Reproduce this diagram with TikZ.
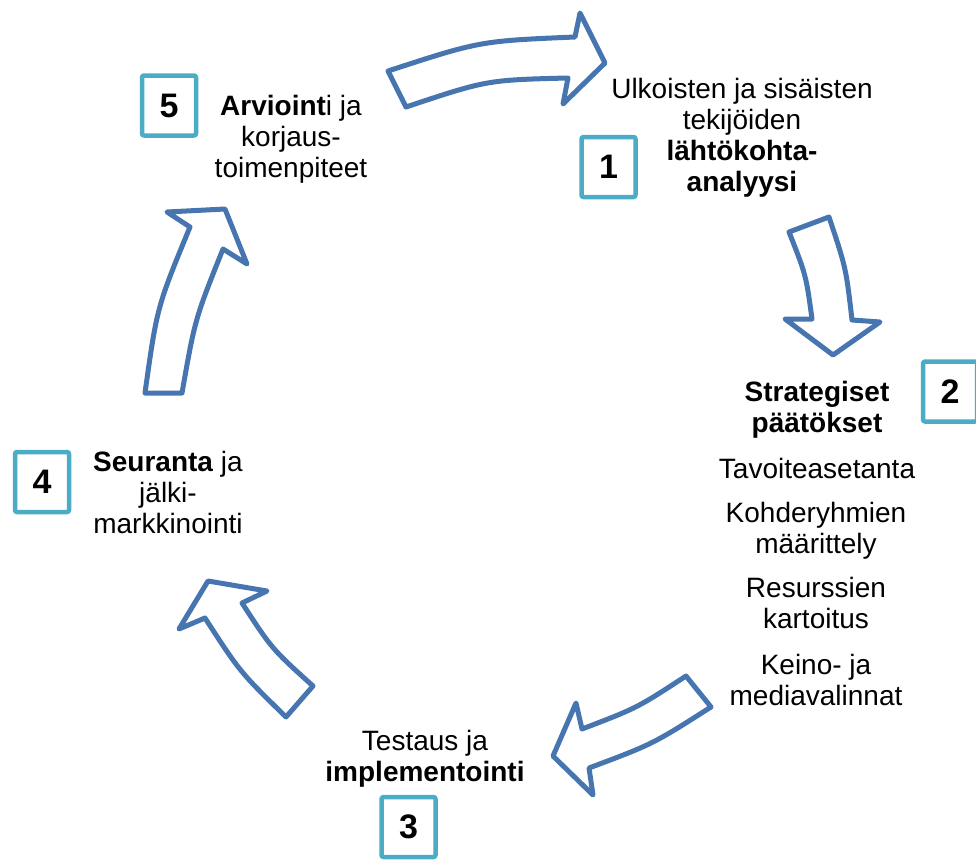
\documentclass[tikz,border=0pt]{standalone}
\usepackage{fontspec}
\setmainfont{Liberation Sans}
\usepackage{tikz}
\definecolor{cycleblue}{RGB}{71,117,176}
\definecolor{boxteal}{RGB}{75,172,198}
\newcommand{\tikzNumberBox}[3]{
  \node[draw=boxteal,line width=4.5pt,rounded corners=2pt,fill=white,rectangle,inner sep=0pt,minimum width=54pt,minimum height=60pt,font=\fontsize{34}{34}\selectfont\bfseries] (#1) at (#2) {#3};
}

\begin{document}
\begin{tikzpicture}[x=1pt,y=-1pt,line join=round,font=\fontsize{28}{31}\selectfont]
  \useasboundingbox (0,0) rectangle (976,859);
  \path[draw=cycleblue,line width=5pt,fill=white] (388,71) .. controls (480,41) .. (575,37) -- (580,13) -- (605,63) -- (563,104) -- (568,78) .. controls (487,80) .. (406,107) -- cycle;
  \path[draw=cycleblue,line width=5pt,fill=white] (789,232) -- (829,217) .. controls (846,268) .. (852,320) -- (880,322) -- (833,355) -- (785,319) -- (812,319) .. controls (806,275) .. (789,232) -- cycle;
  \path[draw=cycleblue,line width=5pt,fill=white] (686,676) -- (711,707) .. controls (653,744) .. (589,768) -- (593,795) -- (553,756) -- (576,703) -- (582,729) .. controls (637,708) .. (686,676) -- cycle;
  \path[draw=cycleblue,line width=5pt,fill=white] (313,686) -- (286,717) .. controls (240,672) .. (205,618) -- (179,629) -- (208,581) -- (267,591) -- (242,603) .. controls (272,649) .. (313,686) -- cycle;
  \path[draw=cycleblue,line width=5pt,fill=white] (145,393) -- (182,393) .. controls (195,319) .. (223,249) -- (247,264) -- (225,209) -- (167,212) -- (190,227) .. controls (157,307) .. (145,393) -- cycle;
  \node[align=center] (lahto) at (742,138) {Ulkoisten ja sisäisten\\tekijöiden\\\textbf{lähtökohta-}\\\textbf{analyysi}};
  \node[align=center] (strat) at (817,410) {\textbf{Strategiset}\\\textbf{päätökset}};
  \node[align=center] (tavoite) at (817,468) {Tavoiteasetanta};
  \node[align=center] (kohde) at (816,531) {Kohderyhmien\\määrittely};
  \node[align=center] (resurssi) at (816,603) {Resurssien\\kartoitus};
  \node[align=center] (keino) at (816,680) {Keino- ja\\mediavalinnat};
  \node[align=center] (testaus) at (425,759) {Testaus ja\\\textbf{implementointi}};
  \node[align=center] (seuranta) at (168,492) {\textbf{Seuranta} ja\\jälki-\\markkinointi};
  \node[align=center] (arviointi) at (291,139) {\textbf{Arvioint}i ja\\korjaus-\\toimenpiteet};
  \tikzNumberBox{box1}{608.5,167}{1}
  \tikzNumberBox{box2}{950,391.5}{2}
  \tikzNumberBox{box3}{408.5,827}{3}
  \tikzNumberBox{box4}{42,482}{4}
  \tikzNumberBox{box5}{169,105.5}{5}
\end{tikzpicture}
\end{document}
